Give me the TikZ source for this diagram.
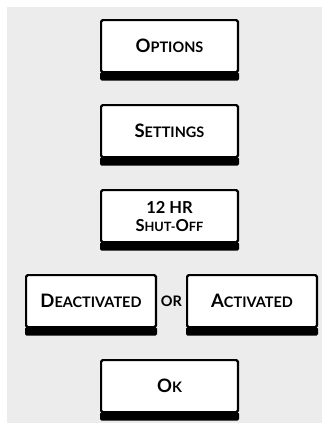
\documentclass[tikz,border=0pt]{standalone}
\usepackage{fontspec}
\setmainfont{Lato}
\usetikzlibrary{positioning, calc}
\definecolor{panelgray}{HTML}{EBECEB}
% fake small caps: big first letter, smaller rest
\newcommand{\capsc}[2]{{\fontsize{18.5}{22}\selectfont #1}{\fontsize{14.5}{18}\selectfont #2}}
\newcommand{\capsm}[2]{{\fontsize{16.5}{18}\selectfont #1}{\fontsize{12.8}{18}\selectfont #2}}
\tikzset{menubox/.style={rectangle, draw=black, fill=white, line width=2.2pt, rounded corners=1.5pt,
                         minimum width=136.8pt, minimum height=52pt, outer sep=0pt, inner sep=0pt,
                         align=center, font=\bfseries}}
\tikzset{widebox/.style={menubox, minimum width=129.8pt}}

\begin{document}
\begin{tikzpicture}[x=1pt, y=-1pt, node distance=33pt]
    \useasboundingbox (0,0) rectangle (322,423);
    \fill[panelgray] (7,7) rectangle (322,423);

    \node (opt)   [menubox] at (169.5,46.1) {\capsc{O}{PTIONS}};
    \node (set)   [menubox, below=of opt]   {\capsc{S}{ETTINGS}};
    \node (shut)  [menubox, below=of set, font=\bfseries\fontsize{12.8}{18}\selectfont]
                  {{\fontsize{16.5}{18}\selectfont 12 HR}\\\capsm{S}{HUT-}\capsm{O}{FF}};
    \node (deact) [widebox, below=of shut, xshift=-78.5pt] {\capsc{D}{EACTIVATED}};
    \node (act)   [widebox, right=31.2pt of deact]         {\capsc{A}{CTIVATED}};
    \node (or)    [font=\bfseries] at ($(deact.east)!0.5!(act.west)$) {\fontsize{14.5}{18}\selectfont OR};
    \node (ok)    [menubox, below=118pt of shut] {\capsc{O}{K}};

    % thick bottom edge of each button
    \foreach \b in {opt, set, shut, deact, act, ok}
        \fill[rounded corners=1.5pt] ([xshift=-1.1pt]\b.south west) rectangle ([xshift=1.1pt, yshift=-8.4pt]\b.south east);
\end{tikzpicture}
\end{document}
